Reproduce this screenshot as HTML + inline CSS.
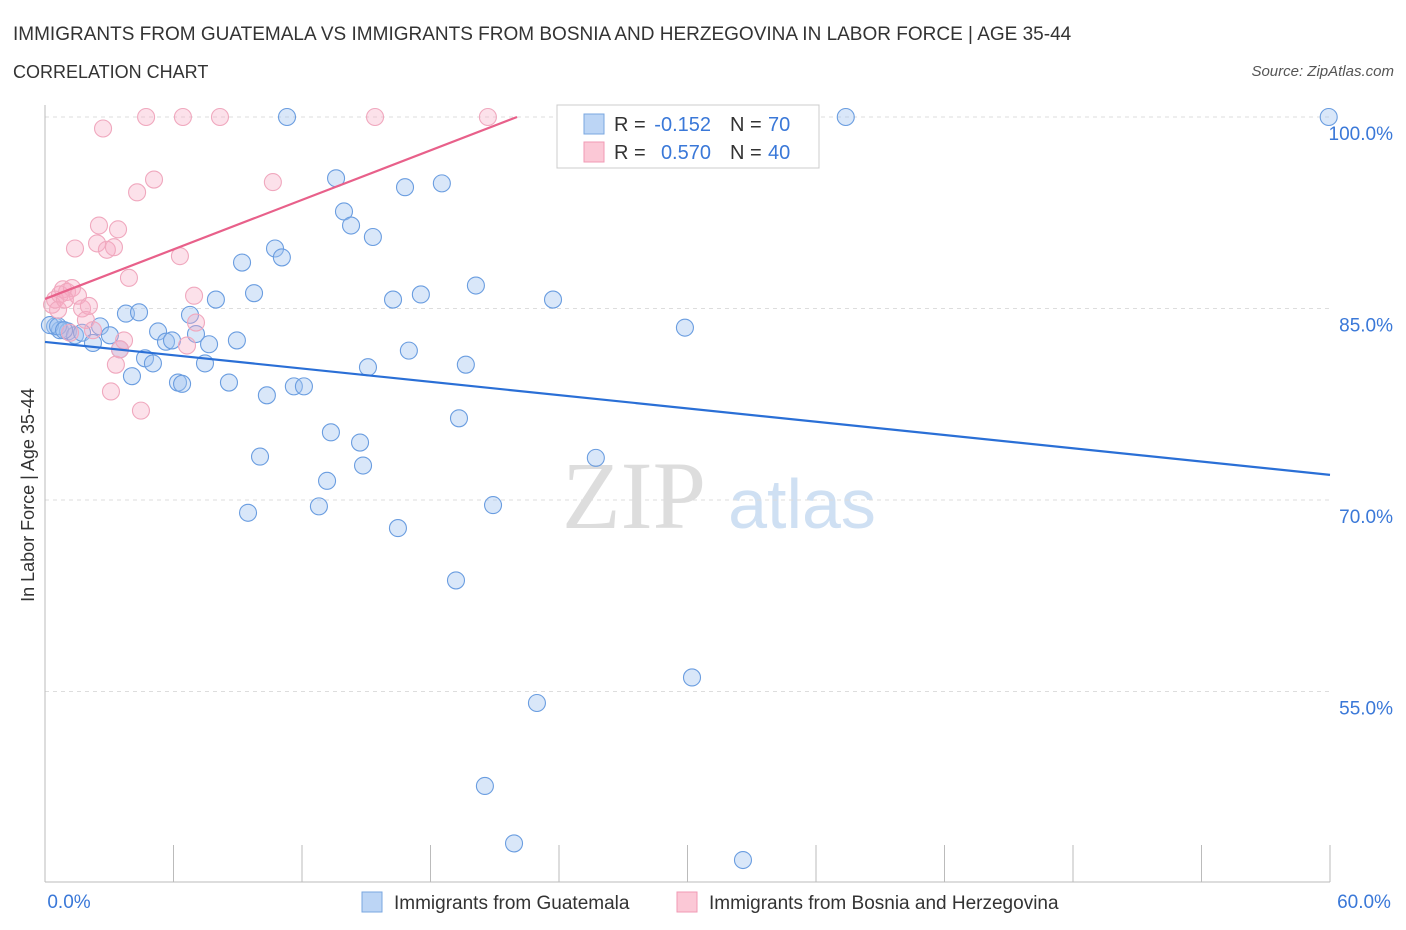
<!DOCTYPE html>
<html><head><meta charset="utf-8">
<style>
body{margin:0;background:#fff;font-family:"Liberation Sans",sans-serif;}
svg{display:block}
</style></head>
<body>
<svg id="chart" width="1406" height="930">
<text x="13" y="40" font-size="19" fill="#333">IMMIGRANTS FROM GUATEMALA VS IMMIGRANTS FROM BOSNIA AND HERZEGOVINA IN LABOR FORCE | AGE 35-44</text>
<text x="13" y="78" font-size="18" fill="#333">CORRELATION CHART</text>
<text x="1394" y="76" font-size="15" fill="#555" font-style="italic" text-anchor="end">Source: ZipAtlas.com</text>
<text x="634" y="528" font-size="96" fill="#ddd" font-family="Liberation Serif,serif" text-anchor="middle">ZIP</text>
<text x="802" y="528" font-size="70" fill="#cfe0f3" text-anchor="middle">atlas</text>
<text x="34" y="495" font-size="18" fill="#333" text-anchor="middle" transform="rotate(-90 34 495)">In Labor Force | Age 35-44</text>
<g id="grid"></g><g id="axes"></g><g id="pts"></g><g id="lines"></g>
<g>
<rect x="557" y="105" width="262" height="63" fill="#fff" stroke="#ccc"/>
<rect x="584" y="114" width="20" height="20" fill="#bcd5f5" stroke="#7aa7e0"/>
<rect x="584" y="142" width="20" height="20" fill="#fbc8d6" stroke="#f09ab4"/>
<text x="614" y="131" font-size="20" fill="#333">R =</text>
<text x="711" y="131" font-size="20" fill="#3a78d8" text-anchor="end">-0.152</text>
<text x="730" y="131" font-size="20" fill="#333">N =</text>
<text x="768" y="131" font-size="20" fill="#3a78d8">70</text>
<text x="614" y="159" font-size="20" fill="#333">R =</text>
<text x="711" y="159" font-size="20" fill="#3a78d8" text-anchor="end">0.570</text>
<text x="730" y="159" font-size="20" fill="#333">N =</text>
<text x="768" y="159" font-size="20" fill="#3a78d8">40</text>
</g>
<g>
<rect x="362" y="892" width="20" height="20" fill="#bcd5f5" stroke="#7aa7e0"/>
<text x="394" y="909" font-size="19" fill="#333">Immigrants from Guatemala</text>
<rect x="677" y="892" width="20" height="20" fill="#fbc8d6" stroke="#f09ab4"/>
<text x="709" y="909" font-size="19" fill="#333">Immigrants from Bosnia and Herzegovina</text>
</g>
</svg>
<script>
const blueX=[.47,.70,1.07,1.40,1.73,2.24,2.57,3.03,3.50,3.78,4.06,4.39,4.67,5.04,5.28,5.65,5.93,6.21,6.40,6.77,7.05,7.47,7.66,7.98,8.59,8.96,9.20,9.48,9.76,10.04,10.36,10.74,11.06,11.30,11.62,12.09,12.79,13.17,13.35,13.59,13.96,14.29,14.71,14.85,15.08,15.31,16.25,16.48,16.81,16.99,17.55,18.53,19.19,19.33,19.65,20.12,20.54,20.92,21.90,22.97,23.72,25.72,29.88,30.21,32.59,37.39,59.94,.23,.61,.89];
const blueY=[83.6,83.3,83.2,82.9,83.1,82.3,83.6,82.9,81.8,84.6,79.7,84.7,81.1,80.7,83.2,82.4,82.5,79.2,79.1,84.5,83.0,80.7,82.2,85.7,79.2,82.5,88.6,69.0,86.2,73.4,78.2,89.7,89.0,100,78.9,78.9,69.5,71.5,75.3,95.2,92.6,91.5,74.5,72.7,80.4,90.6,85.7,67.8,94.5,81.7,86.1,94.8,63.7,76.4,80.6,86.8,47.6,69.6,43.1,54.1,85.7,73.3,83.5,56.1,41.8,100,100,83.7,83.6,83.3];
const pinkX=[.33,.47,.70,.84,1.03,1.26,1.40,1.54,1.73,1.91,2.05,2.24,2.43,2.52,2.71,2.89,3.08,3.22,3.31,3.41,3.50,3.69,3.92,4.30,4.48,4.72,5.09,6.30,6.44,6.63,6.96,7.05,8.17,10.64,15.41,20.68,29.46,.61,1.17,.93];
const pinkY=[85.3,85.7,86.1,86.5,86.3,86.6,89.7,86.0,85.0,84.1,85.2,83.3,90.1,91.5,99.1,89.6,78.5,89.8,80.6,91.2,81.8,82.5,87.4,94.1,77.0,100,95.1,89.1,100,82.1,86.0,83.9,100,94.9,100,100,100,84.9,83.1,85.7];
const blueTrend=[82.38,71.97];
const pinkTrend=[85.75,100];
const pinkTrendEndX=22.04;
const yTicks=[100,85,70,55];
const xTicks=[0,6,12,18,24,30,36,42,48,54,60];
const NS="http://www.w3.org/2000/svg";
const sx=v=>45+v*1285/60;
const sy=v=>117+(100-v)*191.5/15;
function mk(tag,attrs,parent){const e=document.createElementNS(NS,tag);for(const k in attrs)e.setAttribute(k,attrs[k]);document.getElementById(parent).appendChild(e);return e;}
yTicks.forEach(t=>{
 const l=mk('line',{x1:45,x2:1330,y1:sy(t),y2:sy(t),stroke:'#ddd','stroke-dasharray':'4,4'},'grid');
 
 
 const tx=mk('text',{x:1393,y:sy(t)+23,'font-size':19,fill:'#3a78d8','text-anchor':'end'},'grid');
 tx.textContent=t.toFixed(1)+'%';
 
 
});
mk('line',{x1:45,x2:45,y1:105,y2:882,stroke:'#bbb'},'axes');
mk('line',{x1:45,x2:1330,y1:882,y2:882,stroke:'#bbb'},'axes');
xTicks.forEach(t=>{
 const l=mk('line',{x1:sx(t),x2:sx(t),y1:845,y2:882,stroke:'#bbb'},'axes');
 
 
});
[[0,'0.0%',69],[60,'60.0%',1364]].forEach(([v,s,x])=>{
 const tx=mk('text',{x:x,y:908,'font-size':19,fill:'#3a78d8','text-anchor':'middle'},'axes');
 tx.textContent=s;
 
 
});
blueX.forEach((x,i)=>{
 const c=mk('circle',{cx:sx(x),cy:sy(blueY[i]),r:8.5,fill:'rgba(160,196,240,0.4)',stroke:'#6a9de0','stroke-width':1.1},'pts');
 
 
});
pinkX.forEach((x,i)=>{
 const c=mk('circle',{cx:sx(x),cy:sy(pinkY[i]),r:8.5,fill:'rgba(245,170,195,0.35)',stroke:'#f0a8be','stroke-width':1.1},'pts');
 
 
});
const bl=mk('line',{x1:sx(0),y1:sy(blueTrend[0]),x2:sx(60),y2:sy(blueTrend[1]),stroke:'#2a6fd6','stroke-width':2.2},'lines');


const pl=mk('line',{x1:sx(0),y1:sy(pinkTrend[0]),x2:sx(pinkTrendEndX),y2:sy(pinkTrend[1]),stroke:'#e8608a','stroke-width':2.2},'lines');


</script>
</body></html>
